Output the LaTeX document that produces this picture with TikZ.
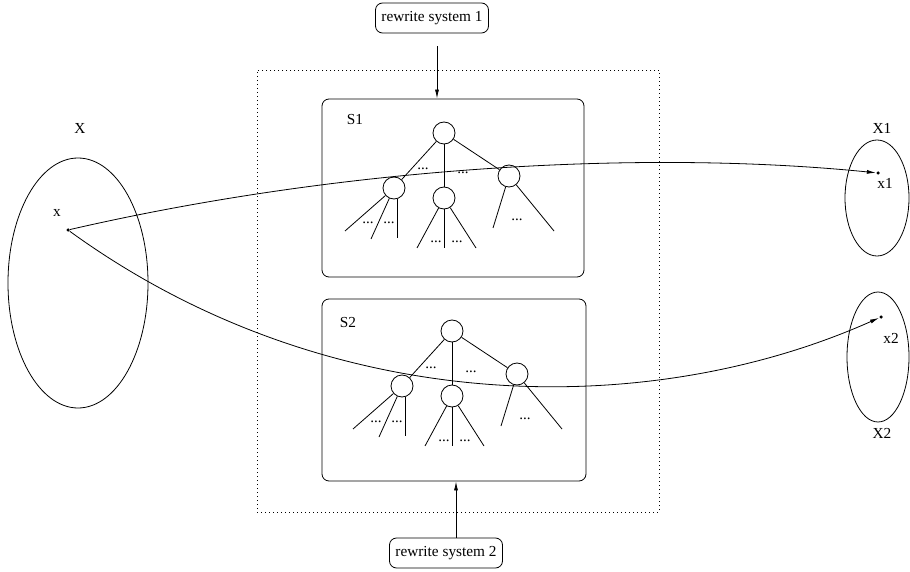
\documentclass[tikz,border=0pt]{standalone}
\usepackage{fontspec}
\setmainfont{Liberation Serif}
\usetikzlibrary{shapes.geometric,arrows.meta}

\tikzset{
  % a small rewrite tree: root, three children, and their fanned-out leaves
  rtree/.pic={
    \node[vert] (-root) at (0,0) {};
    \node[vert] (-l) at (-50,55) {};
    \node[vert] (-m) at (0,65) {};
    \node[vert] (-r) at (65,43) {};
    \coordinate (-la) at (-99,98);
    \coordinate (-lb) at (-73,106);
    \coordinate (-lc) at (-47,105);
    \coordinate (-ma) at (-27,115);
    \coordinate (-mb) at (0,115);
    \coordinate (-mc) at (32,115);
    \coordinate (-ra) at (49,95);
    \coordinate (-rb) at (110,98);
    \draw (-root) -- (-l);
    \draw (-root) -- (-m);
    \draw (-root) -- (-r);
    \draw (-l) -- (-la);
    \draw (-l) -- (-lb);
    \draw (-lc |- -l.south) -- (-lc);
    \draw (-m) -- (-ma);
    \draw (-m) -- (-mb);
    \draw (-m) -- (-mc);
    \draw (-r) -- (-ra);
    \draw (-r) -- (-rb);
    \node[dots] (-d1) at (-21,37) {...};
    \node[dots] (-d2) at (19,41) {...};
    \node[dots] (-d3) at (-76,91) {...};
    \node[dots] (-d4) at (-55,91) {...};
    \node[dots] (-d5) at (-8,110) {...};
    \node[dots] (-d6) at (13,110) {...};
    \node[dots] (-d7) at (73,88) {...};
  }
}

\begin{document}
\begin{tikzpicture}[x=1pt,y=-1pt,line width=0.8pt,
  font=\fontsize{15.3}{18}\selectfont,
  vert/.style={circle,draw,minimum size=22pt,inner sep=0pt},
  ell/.style={ellipse,draw,inner sep=0pt},
  panel/.style={draw,rounded corners=7pt,inner sep=0pt},
  tag/.style={draw,rounded corners=7pt,minimum width=113pt,minimum height=30pt,inner sep=0pt},
  lbl/.style={inner sep=0pt},
  dots/.style={inner sep=0pt,anchor=base,font=\fontsize{15}{18}\selectfont},
  pt/.style={circle,fill,inner sep=0pt,minimum size=3.5pt},
  arr/.style={-{Latex[length=9pt,width=4pt]}},
  frame/.style={draw,line width=0.7pt,dash pattern=on 1pt off 3pt,inner sep=0pt}]

\useasboundingbox (0,0) rectangle (910,572);

% dotted enclosure of the two rewrite systems
\node[frame,minimum width=402pt,minimum height=442pt] (frame) at (458,291) {};

% the two systems
\node[panel,minimum width=262pt,minimum height=178pt] (s1) at (453,188) {};
\node[panel,minimum width=264pt,minimum height=182pt] (s2) at (454,390) {};
\node[lbl] (s1lbl) at (355,120) {S1};
\node[lbl] (s2lbl) at (348,323) {S2};
\pic (t1) at (444,133) {rtree};
\pic (t2) at (452,331) {rtree};

% captions with their arrows
\node[tag] (rs1) at (432,18) {rewrite system 1};
\node[tag] (rs2) at (446,553) {rewrite system 2};
\coordinate (a1) at ([xshift=5pt,yshift=-13pt]rs1.south);
\draw[arr] (a1) -- (a1 |- s1.north);
\coordinate (a2) at ([xshift=10pt]rs2.north);
\draw[arr] (a2) -- (a2 |- s2.south);

% the sets
\node[ell,minimum width=140pt,minimum height=250pt] (X) at (78,283) {};
\node[ell,minimum width=64pt,minimum height=116pt] (X1) at (877,198) {};
\node[ell,minimum width=62pt,minimum height=130pt] (X2) at (878,357) {};
\node[lbl] (Xlbl) at (80,128) {X};
\node[lbl] (X1lbl) at (882,128) {X1};
\node[lbl] (X2lbl) at (882,433) {X2};

% the points and their labels
\node[pt] (x) at (68,230) {};
\node[pt] (x1) at (878,173) {};
\node[pt] (x2) at (881,317) {};
\node[lbl] (xlbl) at (57,213) {x};
\node[lbl] (x1lbl) at (885,183) {x1};
\node[lbl] (x2lbl) at (891,338) {x2};

% mappings of x through the two systems
\draw[arr] (x) .. controls (350,165) and (650,150) .. (x1);
\draw[arr] (x) .. controls (330,420) and (650,420) .. (x2);

\end{tikzpicture}
\end{document}
